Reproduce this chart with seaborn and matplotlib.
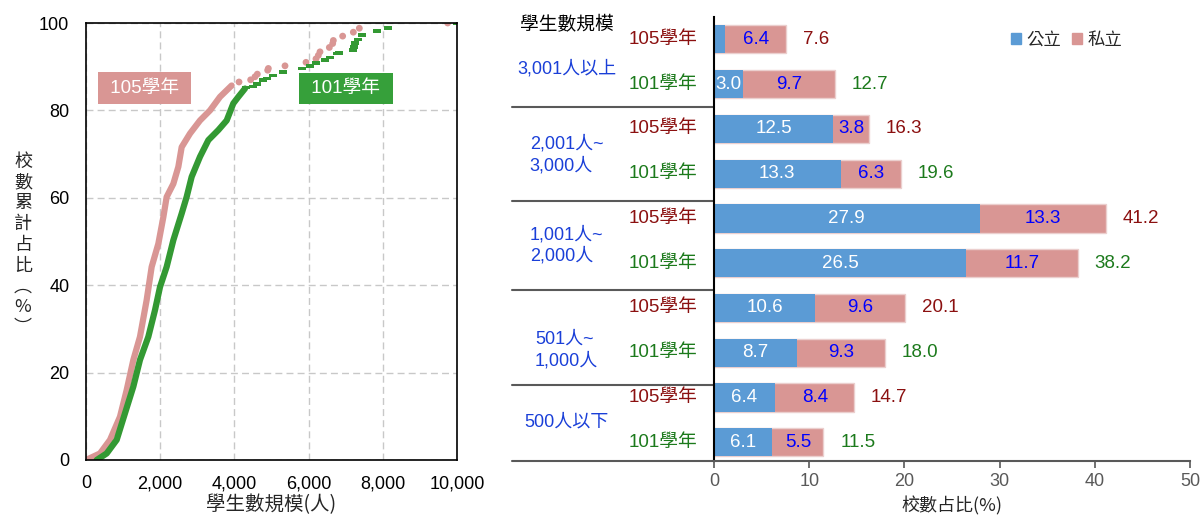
import matplotlib
matplotlib.use("Agg")
import matplotlib.pyplot as plt
import seaborn as sns
import pandas as pd
from matplotlib.patches import Patch
from matplotlib.ticker import FuncFormatter

# ---------------- data: left chart (cumulative share of schools by size) ----------------
s105_size = [0, 377, 647, 916, 1096, 1276, 1455, 1635, 1770, 1950, 2085, 2174, 2354,
             2489, 2579, 2803, 3073, 3343, 3612, 3926]
s105_pct = [0, 1.5, 4.6, 9.9, 16.0, 22.9, 28.2, 36.6, 44.2, 49.5, 55.6, 60.2, 63.2,
            67.1, 71.6, 74.7, 77.7, 80.0, 83.1, 85.7]
t105_size = [4124, 4438, 4555, 4618, 4897, 4915, 5364, 5930, 6199, 6262, 6307, 6559,
             6649, 6667, 6918, 7206, 7367, 9748]
t105_pct = [86.5, 87.0, 87.7, 88.3, 89.2, 89.6, 90.2, 91.0, 91.8, 92.6, 93.4, 94.4,
            95.3, 96.0, 97.0, 97.9, 98.8, 100]

s101_size = [288, 557, 827, 1051, 1276, 1455, 1680, 1860, 1995, 2174, 2354, 2579, 2713,
             2848, 3073, 3298, 3567, 3792, 3971, 4106, 4286]
s101_pct = [0, 1.5, 4.6, 10.7, 16.8, 22.9, 28.2, 34.3, 39.6, 44.2, 50.3, 56.4, 60.2,
            64.8, 69.4, 73.2, 75.5, 77.7, 81.6, 83.1, 85.0]
t101_size = [4304, 4510, 4600, 4780, 4870, 5049, 5301, 5813, 6038, 6199, 6442, 6577,
             6757, 6828, 7206, 7224, 7251, 7341, 7430, 7834, 8149, 9991]
t101_pct = [85.2, 85.5, 86.1, 86.9, 87.3, 88.0, 88.8, 89.6, 90.2, 90.9, 91.6, 92.1,
            93.0, 93.1, 93.8, 94.5, 95.4, 96.2, 97.2, 98.1, 98.9, 100]

x_ticks_left = [0, 2000, 4000, 6000, 8000, 10000]
y_ticks_left = [0, 20, 40, 60, 80, 100]

# ---------------- data: right chart (share of schools by size group) ----------------
groups = ["3,001人以上", "2,001人~\n3,000人", "1,001人~\n2,000人", "501人~\n1,000人", "500人以下"]
years = ["105學年", "101學年"]
public105 = [1.2, 12.5, 27.9, 10.6, 6.4]
private105 = [6.4, 3.8, 13.3, 9.6, 8.4]
total105 = [7.6, 16.3, 41.2, 20.1, 14.7]
public101 = [3.0, 13.3, 26.5, 8.7, 6.1]
private101 = [9.7, 6.3, 11.7, 9.3, 5.5]
total101 = [12.7, 19.6, 38.2, 18.0, 11.5]
x_ticks_right = [0, 10, 20, 30, 40, 50]

# ---------------- style ----------------
sns.set_theme(style="white")
FONT = ["Liberation Sans", "Noto Sans CJK TC", "DejaVu Sans"]
plt.rcParams["font.family"] = FONT

PINK = "#D99694"
GREEN_PT = "#339933"
GREEN_BOX = "#36A03A"
BLUE = "#5B9BD5"
RED_TXT = "#8B1010"
GREEN_TXT = "#1C7A1C"
GROUP_TXT = "#1A3FD8"

fig = plt.figure(figsize=(12.02, 5.2), dpi=100)
ax1 = fig.add_axes([86 / 1202, 60 / 520, (457 - 86) / 1202, (460 - 23) / 520])
ax2 = fig.add_axes([714 / 1202, 59 / 520, (1190 - 714) / 1202, (461 - 17) / 520])

# ---------------- left chart ----------------
sns.lineplot(x=s105_size, y=s105_pct, ax=ax1, color=PINK, lw=4.5, sort=False)
sns.lineplot(x=s101_size, y=s101_pct, ax=ax1, color=GREEN_PT, lw=4.5, sort=False)
sns.scatterplot(x=t105_size, y=t105_pct, ax=ax1, color=PINK, s=24, marker="o",
                edgecolor="none")
dash = [(-1, -0.45), (1, -0.45), (1, 0.45), (-1, 0.45)]
sns.scatterplot(x=t101_size, y=t101_pct, ax=ax1, color=GREEN_PT, s=34, marker=dash,
                edgecolor="none")

ax1.set_xlim(0, 10000)
ax1.set_ylim(0, 100)
ax1.set_xticks(x_ticks_left)
ax1.set_yticks(y_ticks_left)
ax1.xaxis.set_major_formatter(FuncFormatter(lambda v, p: f"{int(v):,}"))
ax1.tick_params(axis="both", length=0, labelsize=13, colors="black")
ax1.tick_params(axis="x", pad=11)
ax1.tick_params(axis="y", pad=12)
ax1.grid(True, color="#C8C8C8", ls=(0, (5, 3)), lw=1)
for sp in ax1.spines.values():
    sp.set_color("black")
    sp.set_linewidth(1.2)
ax1.set_xlabel("學生數規模(人)", fontsize=14, family=["Noto Sans CJK TC"], labelpad=1)
ax1.set_ylabel("")
fig.text(23 / 1202, 1 - 245 / 520, "校\n數\n累\n計\n占\n比\n︵\n%\n︶", ha="center",
         va="center", fontsize=13, linespacing=1.2, family=["Noto Sans CJK TC", "Liberation Sans"])

ax1.text(1577, 85.1, " 105學年 ", ha="center", va="center", color="white", fontsize=13.5,
         bbox=dict(boxstyle="square,pad=0.38", fc=PINK, ec="none"))
ax1.text(7008, 85.0, " 101學年 ", ha="center", va="center", color="white", fontsize=13.5,
         bbox=dict(boxstyle="square,pad=0.38", fc=GREEN_BOX, ec="none"))

# ---------------- right chart ----------------
rows = []
for i, g in enumerate(groups):
    rows.append(dict(key=f"{g}|105", year=years[0], public=public105[i],
                     private=private105[i], total=total105[i]))
    rows.append(dict(key=f"{g}|101", year=years[1], public=public101[i],
                     private=private101[i], total=total101[i]))
df = pd.DataFrame(rows)
order = list(df["key"])

sns.barplot(data=df, x="total", y="key", order=order, orient="h", color=PINK,
            width=0.63, ax=ax2, saturation=1, edgecolor="#EBCFCE", linewidth=1)
sns.barplot(data=df, x="public", y="key", order=order, orient="h", color=BLUE,
            width=0.63, ax=ax2, saturation=1, linewidth=0)

ax2.set_xlim(0, 50)
ax2.set_ylim(9.42, -0.5)
ax2.set_xticks(x_ticks_right)
ax2.set_yticks([])
ax2.set_ylabel("")
ax2.set_xlabel("校數占比(%)", fontsize=13, family=["Noto Sans CJK TC"], labelpad=4)
for s in ["top", "right"]:
    ax2.spines[s].set_visible(False)
ax2.spines["left"].set_color("black")
ax2.spines["left"].set_linewidth(1.5)
ax2.spines["bottom"].set_color("#595959")
ax2.spines["bottom"].set_linewidth(1.5)
ax2.tick_params(axis="x", length=5, width=1.2, color="#595959", labelcolor="#595959",
                labelsize=13, pad=4, bottom=True)

trans = ax2.get_yaxis_transform()
for i, r in df.iterrows():
    yc = i
    if r["public"] >= 2:
        ax2.text(r["public"] / 2, yc, f"{r['public']:.1f}", ha="center", va="center",
                 color="white", fontsize=13.5)
    ax2.text(r["public"] + r["private"] / 2, yc, f"{r['private']:.1f}", ha="center",
             va="center", color="#0000FF", fontsize=13.5)
    tcol = RED_TXT if r["year"] == years[0] else GREEN_TXT
    ax2.annotate(f"{r['total']:.1f}", (r["total"], yc), xytext=(12, 0),
                 textcoords="offset points", ha="left", va="center", color=tcol,
                 fontsize=13.5)
    ax2.text(-0.034, yc, r["year"], transform=trans, ha="right", va="center",
             color=tcol, fontsize=13.5, clip_on=False)

group_y = [0.66, 2.58, 4.6, 6.94, 8.55]
for g, gy in zip(groups, group_y):
    ax2.text(-0.31, gy, g, transform=trans, ha="center", va="center", color=GROUP_TXT,
             fontsize=13, linespacing=1.3, multialignment="left", clip_on=False)

for sy in [1.52, 3.6, 5.6, 7.72, 9.42]:
    ax2.plot([-0.424, 0], [sy, sy], transform=trans, color="#595959", lw=1.5,
             clip_on=False)

ax2.text(-0.309, -0.32, "學生數規模", transform=trans, ha="center", va="center",
         color="black", fontsize=13.5, family=["Noto Sans CJK TC"], clip_on=False)

handles = [Patch(color=BLUE, label="公立"), Patch(color=PINK, label="私立")]
ax2.legend(handles=handles, loc="center right", bbox_to_anchor=(0.89, 0.948), ncol=2,
           frameon=False, handlelength=0.6, handleheight=0.6, handletextpad=0.3,
           columnspacing=0.6, prop=dict(family="Noto Sans CJK TC", size=12.5))

fig.savefig("out.png", dpi=100)
